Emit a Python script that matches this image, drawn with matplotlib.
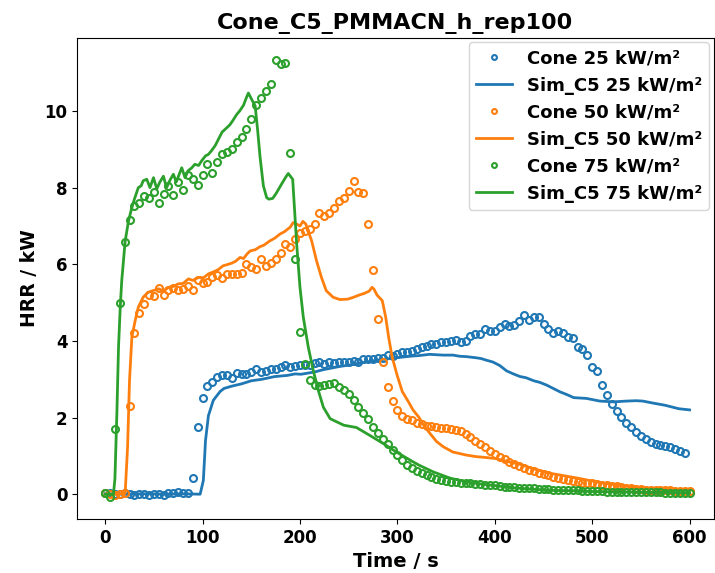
import numpy as np
import matplotlib
matplotlib.use("Agg")
import matplotlib.pyplot as plt

# ---------------- data ----------------
cone_step = 5  # s between cone samples

cone25 = [0.03, 0.02, 0.0, 0.01, 0.02, 0.0, -0.02, 0.01, 0.0, -0.02, 0.0, 0.01, -0.01, 0.02, 0.04, 0.05, 0.04, 0.02,
          0.42, 1.75, 2.5, 2.82, 2.92, 3.05, 3.12, 3.12, 3.02, 3.16, 3.13, 3.14, 3.2, 3.27, 3.2, 3.22, 3.28, 3.27,
          3.32, 3.36, 3.32, 3.35, 3.36, 3.38, 3.36, 3.42, 3.44, 3.40, 3.44, 3.42, 3.44, 3.46, 3.45, 3.48, 3.45,
          3.52, 3.53, 3.52, 3.56, 3.55, 3.62, 3.6, 3.65, 3.7, 3.72, 3.74, 3.78, 3.84, 3.88, 3.92, 3.93, 3.96, 3.97,
          4.0, 4.02, 3.97, 3.99, 4.14, 4.17, 4.18, 4.3, 4.27, 4.27, 4.36, 4.43, 4.4, 4.41, 4.52, 4.68, 4.55, 4.63,
          4.63, 4.44, 4.31, 4.2, 4.25, 4.2, 4.11, 4.08, 3.84, 3.78, 3.62, 3.33, 3.21, 2.86, 2.6, 2.36, 2.16, 2.01,
          1.86, 1.75, 1.62, 1.53, 1.45, 1.36, 1.32, 1.29, 1.25, 1.23, 1.18, 1.14, 1.08]

cone50 = [0.02, 0.0, -0.02, 0.0, 0.03, 2.3, 4.22, 4.74, 4.97, 5.2, 5.17, 5.37, 5.2, 5.33, 5.38, 5.33, 5.35, 5.44,
          5.33, 5.6, 5.5, 5.53, 5.68, 5.72, 5.65, 5.75, 5.75, 5.75, 5.77, 6.02, 5.94, 5.87, 6.14, 5.95, 6.03, 6.14,
          6.29, 6.52, 6.46, 6.66, 6.82, 6.88, 6.93, 7.04, 7.33, 7.25, 7.33, 7.48, 7.64, 7.73, 7.92, 8.18, 7.9, 7.85,
          7.05, 5.85, 4.56, 3.45, 2.8, 2.43, 2.2, 2.04, 1.95, 1.93, 1.87, 1.82, 1.79, 1.77, 1.75, 1.74, 1.73, 1.7,
          1.67, 1.64, 1.57, 1.48, 1.39, 1.31, 1.22, 1.14, 1.06, 0.98, 0.91, 0.84, 0.78, 0.73, 0.68, 0.64, 0.6, 0.56,
          0.52, 0.49, 0.46, 0.43, 0.4, 0.36, 0.34, 0.32, 0.3, 0.29, 0.28, 0.26, 0.25, 0.24, 0.22, 0.21, 0.19, 0.17,
          0.16, 0.14, 0.13, 0.12, 0.12, 0.12, 0.1, 0.1, 0.1, 0.09, 0.09, 0.08, 0.08]

cone75 = [0.02, -0.08, 1.7, 5.0, 6.58, 7.15, 7.52, 7.6, 7.77, 7.74, 7.9, 7.59, 7.84, 8.04, 7.8, 8.15, 7.93, 8.33,
          8.23, 8.08, 8.33, 8.62, 8.39, 8.66, 8.89, 8.93, 9.0, 9.18, 9.33, 9.52, 9.78, 10.17, 10.35, 10.52, 10.71,
          11.34, 11.23, 11.26, 8.91, 6.15, 4.23, 3.4, 2.97, 2.86, 2.83, 2.84, 2.88, 2.9, 2.81, 2.73, 2.61, 2.46,
          2.27, 2.12, 1.95, 1.75, 1.6, 1.45, 1.32, 1.16, 1.03, 0.9, 0.77, 0.68, 0.61, 0.55, 0.49, 0.44, 0.4, 0.37,
          0.35, 0.33, 0.31, 0.3, 0.29, 0.28, 0.27, 0.26, 0.25, 0.24, 0.23, 0.22, 0.2, 0.19, 0.18, 0.17, 0.16, 0.15,
          0.15, 0.14, 0.13, 0.13, 0.12, 0.12, 0.11, 0.11, 0.1, 0.1, 0.09, 0.09, 0.08, 0.08, 0.08, 0.07, 0.07, 0.07,
          0.06, 0.06, 0.06, 0.06, 0.05, 0.05, 0.05, 0.05, 0.05, 0.04, 0.04, 0.04, 0.04, 0.04, 0.04]

sim25_t = [0, 20, 40, 60, 80, 97.5, 100.8, 103, 106, 111, 118, 122, 130, 140, 150, 161, 174, 187, 195, 201, 215,
           224, 240, 258, 272, 285.5, 302, 313, 323, 333, 347, 357, 364, 371, 381, 386, 391, 398, 405, 412, 419,
           426, 432, 440, 446, 453, 460, 467, 474, 481, 494, 508, 522, 535, 545, 552, 562, 575, 589, 600]
sim25_v = [0.01, 0.0, 0.01, 0.0, 0.01, 0.0, 0.36, 1.4, 2.05, 2.45, 2.68, 2.76, 2.82, 2.88, 2.96, 3.0, 3.07, 3.1,
           3.14, 3.13, 3.19, 3.25, 3.33, 3.4, 3.47, 3.52, 3.57, 3.6, 3.62, 3.65, 3.63, 3.63, 3.6, 3.59, 3.56, 3.54,
           3.5, 3.45, 3.36, 3.22, 3.14, 3.07, 3.04, 2.96, 2.92, 2.85, 2.76, 2.67, 2.6, 2.52, 2.5, 2.43, 2.41, 2.43,
           2.44, 2.43, 2.38, 2.32, 2.23, 2.2]

sim50_t = [0, 10, 20.5, 23, 25, 27.4, 30.8, 34, 39, 44, 50, 55, 60, 65, 70, 75, 80, 85.5, 90, 96, 101, 106, 111,
           116, 121, 125, 130, 134, 138.5, 142, 146, 149, 154, 159, 163, 169, 174, 179.5, 184, 190, 193, 196.6,
           200, 203, 206, 208, 212, 217, 222, 227, 234, 241, 249, 255, 261, 266, 271, 274, 276, 279, 284.5, 288,
           291, 294.6, 299.8, 305, 311.6, 316, 322, 327, 333, 340, 347, 357, 364, 371, 381, 390, 401, 415, 426,
           440, 456, 467, 487, 508, 528, 549, 569, 590, 600]
sim50_v = [0.0, 0.0, 0.02, 1.23, 2.97, 4.1, 4.53, 4.88, 5.14, 5.27, 5.32, 5.36, 5.3, 5.4, 5.42, 5.49, 5.5, 5.62,
           5.58, 5.66, 5.65, 5.75, 5.8, 5.86, 5.96, 5.99, 6.03, 6.08, 6.18, 6.15, 6.28, 6.35, 6.38, 6.46, 6.5, 6.61,
           6.68, 6.79, 6.85, 6.97, 7.09, 7.05, 7.0, 7.12, 7.05, 6.9, 6.61, 6.09, 5.66, 5.31, 5.14, 5.08, 5.09, 5.14,
           5.2, 5.24, 5.3, 5.4, 5.35, 5.2, 5.05, 4.62, 4.1, 3.58, 3.1, 2.68, 2.4, 2.2, 2.01, 1.8, 1.6, 1.38, 1.24,
           1.1, 1.06, 1.02, 0.98, 0.96, 0.93, 0.84, 0.78, 0.66, 0.55, 0.5, 0.41, 0.3, 0.23, 0.17, 0.14, 0.12, 0.11]

sim75_t = [0, 5, 8.5, 10, 12, 13.7, 15.5, 17, 20.5, 24, 27.4, 30, 34, 37, 39, 42.7, 46, 49.6, 53, 56, 59.8, 63,
           66.6, 70, 73, 78.6, 82, 85, 89, 92, 96, 99, 103, 106, 109, 113, 116, 120, 123, 128, 131, 135, 138, 142,
           145, 147, 150.5, 154, 156.6, 159, 162.4, 165.8, 168, 172, 176, 181, 186, 188, 192.5, 196.6, 200, 203.4,
           208.5, 213.6, 218.8, 224, 231, 245, 258, 272, 285, 299, 313, 322, 337, 354, 371, 388, 405, 422, 439,
           456, 480, 500, 527, 560, 600]
sim75_v = [0.0, -0.01, 0.0, 0.4, 2.1, 3.84, 4.9, 5.57, 6.6, 7.14, 7.48, 7.7, 8.0, 8.05, 8.18, 8.22, 8.0, 8.26,
           7.97, 8.14, 8.3, 8.0, 8.2, 8.35, 8.15, 8.52, 8.26, 8.44, 8.52, 8.61, 8.58, 8.7, 8.83, 8.87, 8.96, 9.1,
           9.25, 9.45, 9.52, 9.64, 9.75, 9.91, 10.0, 10.15, 10.35, 10.47, 10.3, 10.13, 9.48, 8.8, 8.05, 7.74, 7.7,
           7.72, 7.87, 8.09, 8.3, 8.37, 8.22, 6.53, 5.4, 4.62, 3.84, 3.23, 2.71, 2.27, 1.97, 1.8, 1.74, 1.53, 1.33,
           1.1, 0.89, 0.76, 0.58, 0.42, 0.32, 0.26, 0.21, 0.16, 0.13, 0.1, 0.09, 0.07, 0.06, 0.05, 0.04]

fluxes = ["25", "50", "75"]
colors = ["#1f77b4", "#ff7f0e", "#2ca02c"]
title = "Cone_C5_PMMACN_h_rep100"

# ---------------- plot ----------------
plt.rcParams['font.family'] = ['DejaVu Sans']
plt.rcParams['font.weight'] = 'bold'

fig = plt.figure(figsize=(7.15, 5.73), dpi=100)
ax = fig.add_axes([0.108, 0.094, 0.89, 0.840])

cones = [cone25, cone50, cone75]
sims = [(sim25_t, sim25_v), (sim50_t, sim50_v), (sim75_t, sim75_v)]
for flux, col, cv, (st, sv) in zip(fluxes, colors, cones, sims):
    ct = np.arange(len(cv)) * cone_step
    ax.plot(ct, cv, linestyle='none', marker='o', markersize=5, markerfacecolor='none',
            markeredgecolor=col, markeredgewidth=1.5, label=f"Cone {flux} kW/m²")
    ax.plot(st, sv, color=col, linewidth=2, label=f"Sim_C5 {flux} kW/m²")

ax.set_xlim(-28.7, 624.6)
ax.set_xticks([0, 100, 200, 300, 400, 500, 600])
ax.set_yticks([0, 2, 4, 6, 8, 10])
ax.tick_params(labelsize=12)
for lab in ax.get_xticklabels() + ax.get_yticklabels():
    lab.set_fontweight('bold')
ax.set_xlabel("Time / s", fontsize=14, fontweight='bold')
ax.set_ylabel("HRR / kW", fontsize=13.5, fontweight='bold')
ax.set_title(title, fontsize=16, fontweight='bold')
leg = ax.legend(loc='upper right', markerscale=0.7, borderaxespad=0.25,
                prop={'weight': 'bold', 'size': 13})

fig.savefig("out.png", dpi=100)
